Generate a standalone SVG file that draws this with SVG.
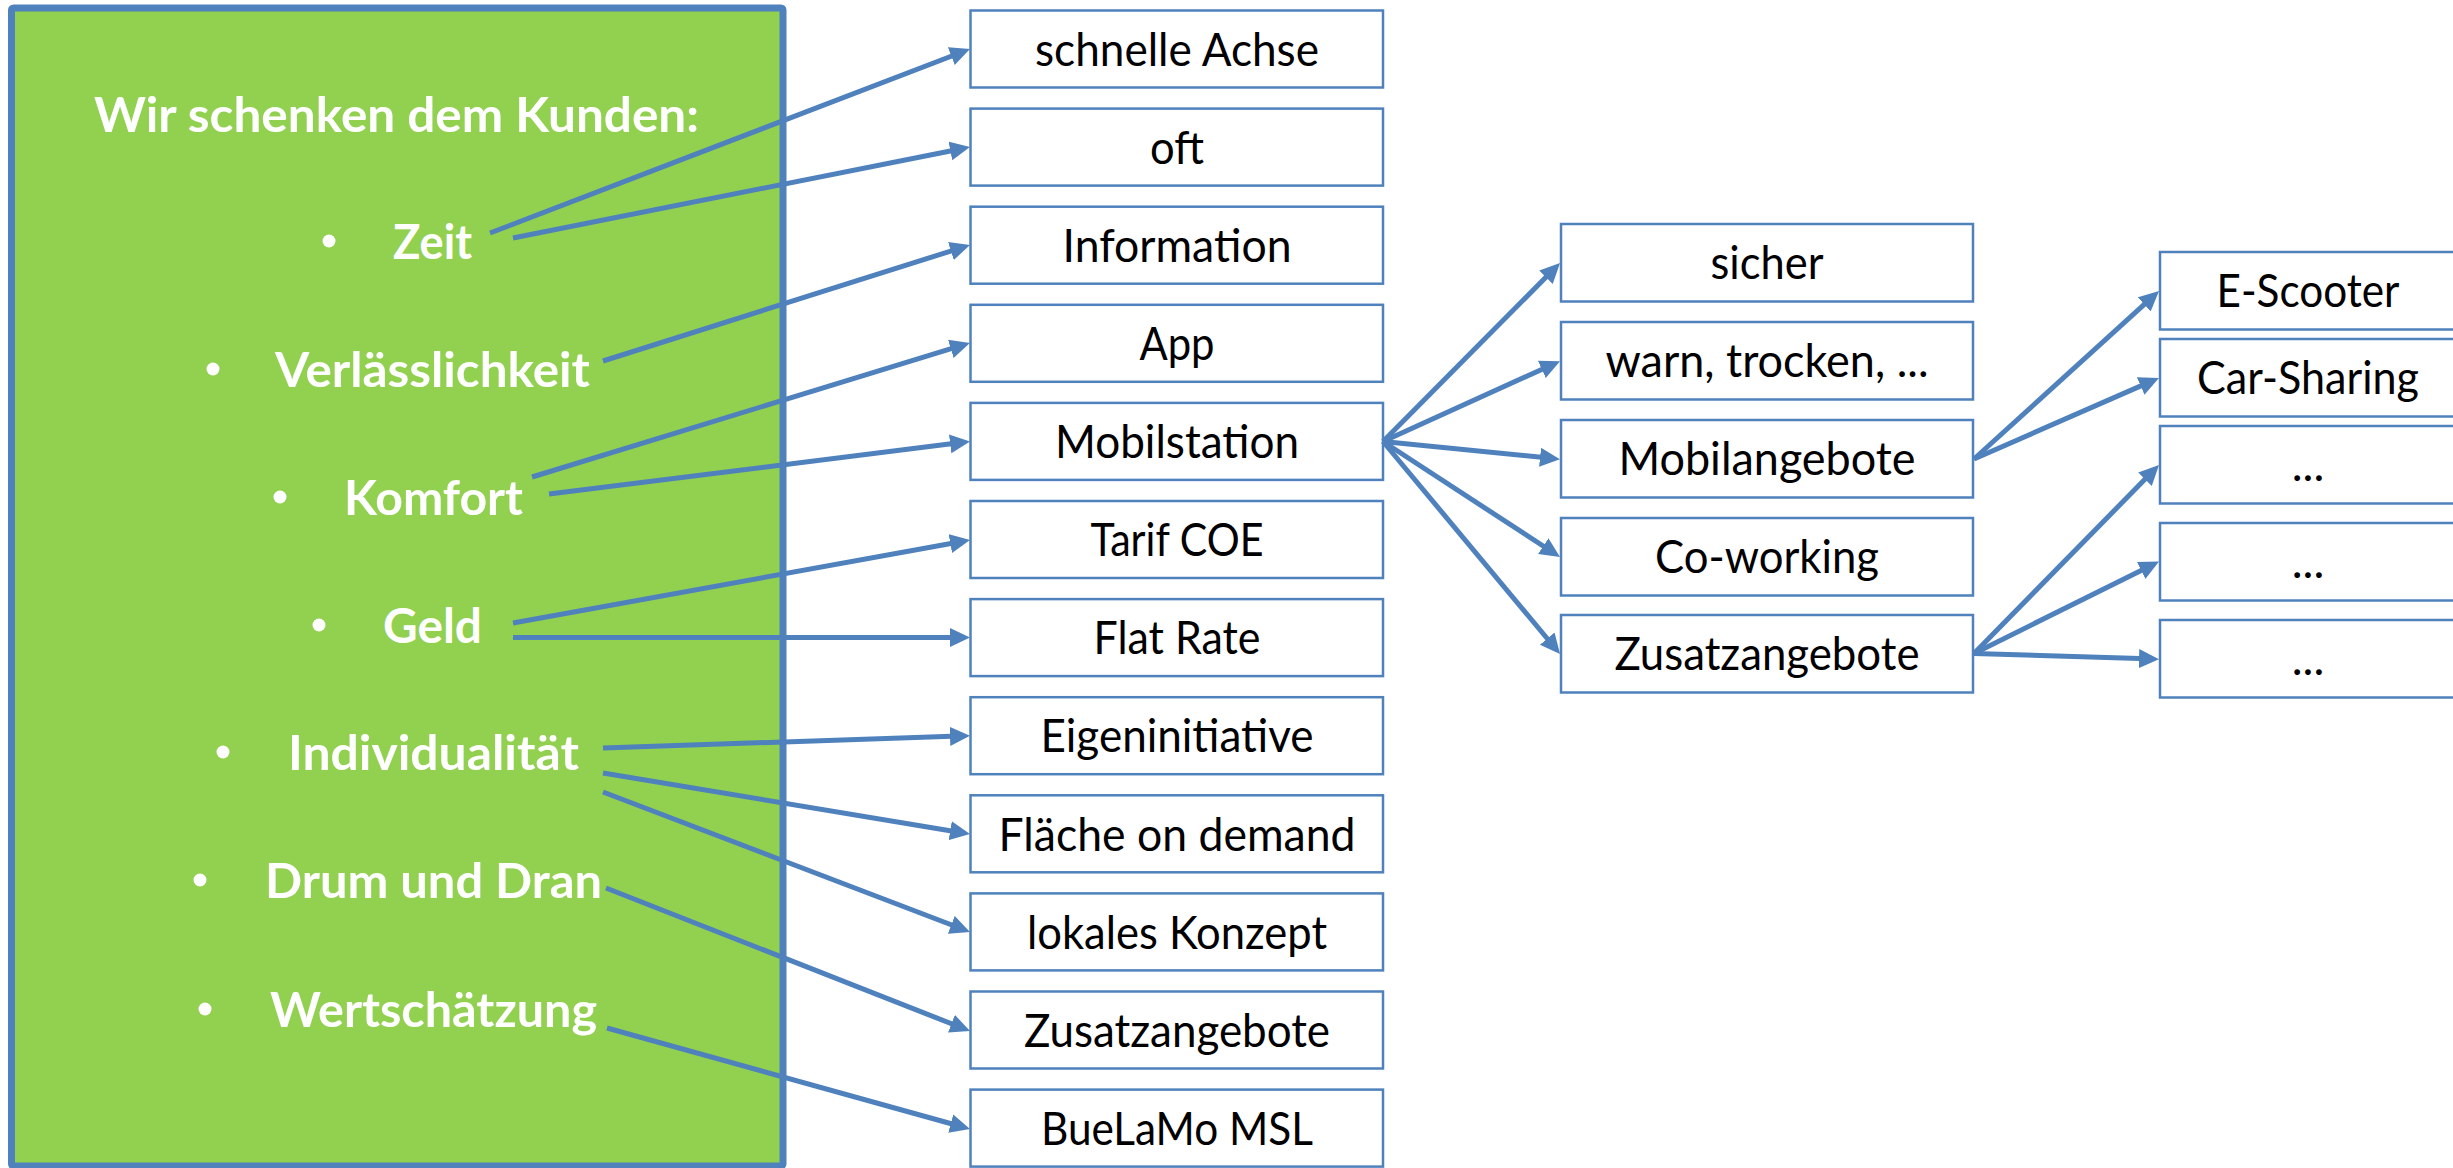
<svg xmlns="http://www.w3.org/2000/svg" width="2453" height="1168" viewBox="0 0 2453 1168">
<style>
.box{fill:#fff;stroke:#4F81BD;stroke-width:2.5}
.lbl{font-family:Lato,"Open Sans","Liberation Sans",sans-serif;font-size:46px;fill:#000;text-anchor:middle}
.wt{font-family:Lato,"Open Sans","Liberation Sans",sans-serif;font-weight:bold;font-size:48px;fill:#fff;text-anchor:middle}
.bul{fill:#fff}
.con line{stroke:#4F81BD;stroke-width:5;marker-end:url(#ah)}
</style>
<defs>
<marker id="ah" markerUnits="userSpaceOnUse" markerWidth="22" markerHeight="20" refX="9" refY="9.5" orient="auto" viewBox="0 0 22 20">
<path d="M0,0 L20,9.5 L0,19 Z" fill="#4F81BD"/>
</marker>
</defs>
<rect width="2453" height="1168" fill="#fff"/>
<g id="kunde">
<rect x="11.5" y="8" width="771.5" height="1158" rx="2" fill="#92D050" stroke="#4F81BD" stroke-width="7"/>
<text class="wt" x="396.5" y="132" font-size="51" textLength="605" lengthAdjust="spacingAndGlyphs">Wir schenken dem Kunden:</text>
<circle class="bul" cx="329" cy="241" r="6.5"/><text class="wt" x="432.5" y="259" textLength="79" lengthAdjust="spacingAndGlyphs">Zeit</text>
<circle class="bul" cx="213" cy="369" r="6.5"/><text class="wt" x="432.5" y="387" textLength="315" lengthAdjust="spacingAndGlyphs">Verlässlichkeit</text>
<circle class="bul" cx="280" cy="497" r="6.5"/><text class="wt" x="433.5" y="515" textLength="179" lengthAdjust="spacingAndGlyphs">Komfort</text>
<circle class="bul" cx="319" cy="625" r="6.5"/><text class="wt" x="432.5" y="643" textLength="99" lengthAdjust="spacingAndGlyphs">Geld</text>
<circle class="bul" cx="223" cy="752" r="6.5"/><text class="wt" x="433.5" y="770" textLength="291" lengthAdjust="spacingAndGlyphs">Individualität</text>
<circle class="bul" cx="200" cy="880" r="6.5"/><text class="wt" x="433.5" y="898" textLength="337" lengthAdjust="spacingAndGlyphs">Drum und Dran</text>
<circle class="bul" cx="205" cy="1009" r="6.5"/><text class="wt" x="433.5" y="1027" textLength="327" lengthAdjust="spacingAndGlyphs">Wertschätzung</text>
</g>
<g id="n-schnelle-achse"><rect class="box" x="970.5" y="10.5" width="412.5" height="77"/><text class="lbl" x="1177" y="65.5" textLength="284" lengthAdjust="spacingAndGlyphs">schnelle Achse</text></g>
<g id="n-oft"><rect class="box" x="970.5" y="108.6" width="412.5" height="77"/><text class="lbl" x="1177" y="163.5" textLength="54" lengthAdjust="spacingAndGlyphs">oft</text></g>
<g id="n-information"><rect class="box" x="970.5" y="206.7" width="412.5" height="77"/><text class="lbl" x="1177" y="261.5" textLength="229" lengthAdjust="spacingAndGlyphs">Information</text></g>
<g id="n-app"><rect class="box" x="970.5" y="304.8" width="412.5" height="77"/><text class="lbl" x="1177" y="359.5" textLength="75" lengthAdjust="spacingAndGlyphs">App</text></g>
<g id="n-mobilstation"><rect class="box" x="970.5" y="402.9" width="412.5" height="77"/><text class="lbl" x="1177" y="458" textLength="244" lengthAdjust="spacingAndGlyphs">Mobilstation</text></g>
<g id="n-tarif"><rect class="box" x="970.5" y="501" width="412.5" height="77"/><text class="lbl" x="1177" y="556" textLength="173" lengthAdjust="spacingAndGlyphs">Tarif COE</text></g>
<g id="n-flatrate"><rect class="box" x="970.5" y="599.1" width="412.5" height="77"/><text class="lbl" x="1177" y="654" textLength="167" lengthAdjust="spacingAndGlyphs">Flat Rate</text></g>
<g id="n-eigeninitiative"><rect class="box" x="970.5" y="697.2" width="412.5" height="77"/><text class="lbl" x="1177" y="752" textLength="273" lengthAdjust="spacingAndGlyphs">Eigeninitiative</text></g>
<g id="n-flaeche"><rect class="box" x="970.5" y="795.3" width="412.5" height="77"/><text class="lbl" x="1177" y="850.5" textLength="357" lengthAdjust="spacingAndGlyphs">Fläche on demand</text></g>
<g id="n-lokales"><rect class="box" x="970.5" y="893.4" width="412.5" height="77"/><text class="lbl" x="1177" y="948.5" textLength="300" lengthAdjust="spacingAndGlyphs">lokales Konzept</text></g>
<g id="n-zusatz1"><rect class="box" x="970.5" y="991.5" width="412.5" height="77"/><text class="lbl" x="1177" y="1046.5" textLength="306" lengthAdjust="spacingAndGlyphs">Zusatzangebote</text></g>
<g id="n-buelamo"><rect class="box" x="970.5" y="1089.6" width="412.5" height="77"/><text class="lbl" x="1177" y="1144.5" textLength="272" lengthAdjust="spacingAndGlyphs">BueLaMo MSL</text></g>
<g id="n-sicher"><rect class="box" x="1561" y="224" width="412" height="77.5"/><text class="lbl" x="1767" y="279" textLength="113" lengthAdjust="spacingAndGlyphs">sicher</text></g>
<g id="n-warn"><rect class="box" x="1561" y="322" width="412" height="77.5"/><text class="lbl" x="1767" y="377" textLength="323" lengthAdjust="spacingAndGlyphs">warn, trocken, ...</text></g>
<g id="n-mobilangebote"><rect class="box" x="1561" y="420" width="412" height="77.5"/><text class="lbl" x="1767" y="475" textLength="297" lengthAdjust="spacingAndGlyphs">Mobilangebote</text></g>
<g id="n-coworking"><rect class="box" x="1561" y="518" width="412" height="77.5"/><text class="lbl" x="1767" y="573" textLength="224" lengthAdjust="spacingAndGlyphs">Co-working</text></g>
<g id="n-zusatz2"><rect class="box" x="1561" y="615" width="412" height="77.5"/><text class="lbl" x="1767" y="670" textLength="305" lengthAdjust="spacingAndGlyphs">Zusatzangebote</text></g>
<g id="n-escooter"><rect class="box" x="2160" y="252" width="298" height="77.5"/><text class="lbl" x="2308" y="307" textLength="183" lengthAdjust="spacingAndGlyphs">E-Scooter</text></g>
<g id="n-carsharing"><rect class="box" x="2160" y="339" width="298" height="77.5"/><text class="lbl" x="2308" y="394" textLength="222" lengthAdjust="spacingAndGlyphs">Car-Sharing</text></g>
<g id="n-more1"><rect class="box" x="2160" y="426" width="298" height="77.5"/><text class="lbl" x="2308" y="481">...</text></g>
<g id="n-more2"><rect class="box" x="2160" y="523" width="298" height="77.5"/><text class="lbl" x="2308" y="578">...</text></g>
<g id="n-more3"><rect class="box" x="2160" y="620" width="298" height="77.5"/><text class="lbl" x="2308" y="675">...</text></g>
<g id="connectors" class="con">
<line x1="490" y1="233" x2="959.7" y2="53"/>
<line x1="513" y1="238" x2="959.2" y2="149.2"/>
<line x1="603" y1="361" x2="959.5" y2="248.3"/>
<line x1="532" y1="477" x2="959.4" y2="346.2"/>
<line x1="549" y1="494" x2="959.1" y2="442.8"/>
<line x1="513" y1="623" x2="959.2" y2="542"/>
<line x1="513" y1="637.5" x2="959" y2="637.5"/>
<line x1="603" y1="748" x2="959" y2="736.1"/>
<line x1="603" y1="773" x2="959.1" y2="832.2"/>
<line x1="603" y1="792" x2="959.7" y2="928"/>
<line x1="606" y1="888" x2="959.8" y2="1027"/>
<line x1="607" y1="1028" x2="959.4" y2="1126"/>
<line x1="1383" y1="441.5" x2="1552.3" y2="270.8"/>
<line x1="1383" y1="441.5" x2="1550" y2="365.7"/>
<line x1="1383" y1="441.5" x2="1549" y2="458.1"/>
<line x1="1383" y1="441.5" x2="1550.8" y2="551"/>
<line x1="1383" y1="441.5" x2="1553" y2="645.5"/>
<line x1="1974" y1="459" x2="2150.9" y2="298.4"/>
<line x1="1974" y1="459" x2="2148.9" y2="382.4"/>
<line x1="1974" y1="653.5" x2="2151.3" y2="472.8"/>
<line x1="1974" y1="653.5" x2="2149.2" y2="566.4"/>
<line x1="1974" y1="653.5" x2="2148" y2="658.8"/>
</g>
</svg>
